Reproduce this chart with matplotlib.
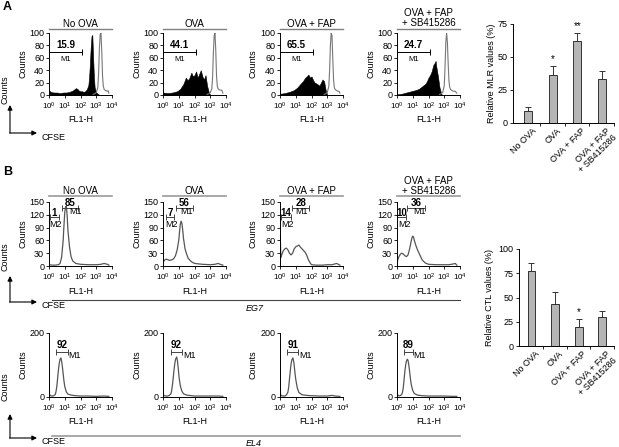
#!/usr/bin/env python3
import numpy as np
import matplotlib
matplotlib.use('Agg')
import matplotlib.pyplot as plt
from matplotlib.ticker import NullLocator
from matplotlib.transforms import blended_transform_factory

plt.rcParams['font.family'] = 'Liberation Sans'
plt.rcParams['mathtext.fontset'] = 'custom'
plt.rcParams['mathtext.rm'] = 'Liberation Sans'
plt.rcParams['mathtext.it'] = 'Liberation Sans:italic'
plt.rcParams['mathtext.bf'] = 'Liberation Sans:bold'

W, H = 619, 447

treatments = ['No OVA', 'OVA', 'OVA + FAP', 'OVA + FAP\n+ SB415286']

# ---- panel A : CFSE histograms (x in log10 FL1-H, y counts) ----
a_m1 = ['15.9', '44.1', '65.5', '24.7']

a_noova_x = [0, 0.1, 0.3, 0.5, 0.7, 0.9, 1.1, 1.3, 1.5, 1.6, 1.7, 1.8, 1.9, 2.0, 2.1, 2.2, 2.3, 2.4,
             2.5, 2.55, 2.6, 2.65, 2.7, 2.75, 2.8, 2.85, 2.9, 3.0, 3.1, 3.2]
a_noova_y = [8, 5, 4, 4, 3, 4, 4, 5, 7, 9, 11, 10, 7, 6, 6, 5, 6, 9,
             16, 30, 52, 78, 95, 97, 62, 30, 12, 4, 2, 0]
a_ova_x = [0, 0.3, 0.6, 0.9, 1.1, 1.3, 1.45, 1.55, 1.65, 1.8, 1.9, 2.0, 2.1, 2.2, 2.3, 2.4,
           2.5, 2.6, 2.7, 2.8, 2.9, 3.0]
a_ova_y = [4, 3, 4, 6, 10, 18, 28, 24, 26, 36, 30, 32, 38, 28, 34, 40, 30, 25, 32, 15, 5, 0]
a_fap_x = [0, 0.3, 0.6, 0.9, 1.1, 1.3, 1.45, 1.6, 1.7, 1.8, 1.9, 2.0, 2.1, 2.2, 2.35, 2.5,
           2.6, 2.7, 2.8, 2.9, 3.0]
a_fap_y = [2, 3, 5, 8, 12, 18, 22, 28, 30, 33, 28, 30, 24, 20, 18, 15, 20, 25, 22, 8, 0]
a_sb_x = [0, 0.3, 0.6, 0.9, 1.2, 1.4, 1.6, 1.8, 1.9, 2.0, 2.1, 2.2, 2.3, 2.4, 2.45, 2.5,
          2.6, 2.7, 2.8, 2.85]
a_sb_y = [1, 2, 4, 6, 8, 10, 14, 18, 22, 28, 32, 38, 48, 52, 55, 45, 30, 12, 3, 0]

# undivided control (open gray histograms)
a_noova_open_x = [2.8, 2.9, 3.0, 3.1, 3.15, 3.2, 3.25, 3.3, 3.35, 3.4, 3.45, 3.5, 3.6, 3.7, 3.75, 3.8]
a_noova_open_y = [1, 2, 4, 12, 35, 75, 98, 100, 70, 30, 14, 9, 7, 6, 7, 3]
a_ova_open_x = [2.8, 2.9, 3.0, 3.1, 3.15, 3.2, 3.25, 3.3, 3.35, 3.4, 3.45, 3.5, 3.6, 3.7, 3.75, 3.8]
a_ova_open_y = [1, 2, 4, 10, 30, 70, 96, 100, 72, 30, 14, 10, 8, 8, 7, 3]
a_fap_open_x = [2.8, 2.9, 3.0, 3.1, 3.15, 3.2, 3.25, 3.3, 3.35, 3.4, 3.45, 3.5, 3.6, 3.7, 3.75, 3.8]
a_fap_open_y = [1, 2, 4, 14, 40, 80, 100, 96, 60, 25, 12, 9, 7, 6, 6, 3]
a_sb_open_x = [2.7, 2.8, 2.9, 3.0, 3.05, 3.1, 3.15, 3.2, 3.25, 3.3, 3.35, 3.4, 3.5, 3.6, 3.7, 3.8]
a_sb_open_y = [1, 2, 4, 15, 45, 85, 100, 85, 50, 22, 12, 9, 7, 6, 6, 3]

# ---- panel B : EG7 targets ----
b_m1 = ['85', '56', '28', '36']
b_m2 = ['1', '7', '14', '10']

eg7_noova_x = [0, 0.2, 0.4, 0.6, 0.7, 0.8, 0.9, 0.95, 1.0, 1.05, 1.1, 1.15, 1.2, 1.3, 1.4, 1.5,
               1.7, 2.0, 2.5, 3.0, 3.3, 3.5, 3.7, 3.8]
eg7_noova_y = [3, 2, 2, 3, 6, 20, 60, 95, 125, 138, 140, 120, 85, 45, 22, 12,
               6, 4, 3, 3, 4, 6, 4, 2]
eg7_ova_x = [0, 0.1, 0.2, 0.3, 0.4, 0.5, 0.6, 0.7, 0.8, 0.9, 1.0, 1.05, 1.1, 1.15, 1.2, 1.25,
             1.3, 1.4, 1.5, 1.6, 1.8, 2.0, 2.5, 3.0, 3.3, 3.5, 3.7, 3.8]
eg7_ova_y = [8, 14, 16, 15, 13, 14, 15, 18, 25, 38, 60, 80, 98, 105, 100, 85,
             65, 40, 28, 18, 10, 6, 4, 3, 4, 6, 3, 2]
eg7_fap_x = [0, 0.02, 0.05, 0.1, 0.2, 0.3, 0.4, 0.5, 0.6, 0.7, 0.8, 0.9, 1.0, 1.1, 1.2, 1.3,
             1.4, 1.5, 1.6, 1.7, 1.8, 1.9, 2.0, 2.3, 2.7, 3.0, 3.3, 3.5, 3.6, 3.7, 3.8]
eg7_fap_y = [5, 68, 20, 25, 35, 40, 42, 38, 30, 26, 30, 40, 45, 47, 49, 44,
             40, 36, 32, 25, 15, 8, 3, 2, 2, 3, 3, 5, 6, 4, 2]
eg7_sb_x = [0, 0.05, 0.1, 0.2, 0.3, 0.4, 0.5, 0.6, 0.7, 0.8, 0.9, 0.95, 1.0, 1.05, 1.1, 1.2,
            1.3, 1.4, 1.5, 1.6, 1.8, 2.0, 2.5, 3.0, 3.3, 3.6, 3.7, 3.8]
eg7_sb_y = [6, 15, 20, 27, 30, 28, 24, 22, 26, 40, 58, 66, 70, 68, 60, 48,
            38, 30, 22, 14, 7, 4, 3, 3, 3, 5, 6, 2]

# ---- panel B : EL4 targets ----
el4_m1 = ['92', '92', '91', '89']

el4_noova_x = [0, 0.01, 0.03, 0.1, 0.2, 0.3, 0.4, 0.45, 0.5, 0.55, 0.6, 0.65, 0.7, 0.76, 0.8, 0.85,
               0.9, 0.95, 1.0, 1.1, 1.2, 1.4, 1.7, 2.0, 2.5, 3.0, 3.5, 3.8]
el4_noova_y = [5, 72, 8, 4, 3, 4, 8, 18, 35, 60, 85, 105, 118, 122, 112, 95,
               72, 50, 33, 16, 9, 6, 4, 3, 3, 2, 3, 2]
el4_ova_x = [0, 0.01, 0.03, 0.1, 0.2, 0.3, 0.4, 0.5, 0.55, 0.6, 0.65, 0.7, 0.75, 0.8, 0.87, 0.92,
             0.97, 1.02, 1.1, 1.2, 1.3, 1.5, 1.8, 2.0, 2.5, 3.0, 3.5, 3.8]
el4_ova_y = [4, 33, 6, 4, 3, 3, 5, 10, 20, 38, 60, 85, 105, 118, 125, 112,
             88, 62, 35, 18, 10, 6, 4, 3, 3, 3, 3, 2]
el4_fap_x = [0, 0.01, 0.03, 0.1, 0.2, 0.3, 0.4, 0.5, 0.55, 0.6, 0.65, 0.7, 0.75, 0.82, 0.88, 0.93,
             1.0, 1.1, 1.2, 1.4, 1.7, 2.0, 2.5, 3.0, 3.3, 3.5, 3.8]
el4_fap_y = [5, 92, 8, 4, 3, 3, 6, 15, 30, 55, 80, 102, 116, 122, 108, 85,
             55, 28, 14, 7, 5, 4, 3, 3, 5, 3, 2]
el4_sb_x = [0, 0.01, 0.03, 0.1, 0.2, 0.3, 0.35, 0.4, 0.45, 0.5, 0.55, 0.6, 0.65, 0.7, 0.75, 0.8,
            0.85, 0.9, 1.0, 1.1, 1.3, 1.6, 2.0, 2.5, 3.0, 3.5, 3.8]
el4_sb_y = [4, 45, 7, 4, 4, 8, 15, 30, 55, 80, 100, 112, 118, 115, 100, 80,
            58, 40, 20, 11, 6, 4, 3, 3, 3, 2, 2]

# ---- bar charts ----
mlr_values = [9, 36, 62, 33]
mlr_err = [3, 7, 6, 6.5]
mlr_stars = ['', '*', '**', '']
ctl_values = [77, 43, 20, 30]
ctl_err = [9, 13, 8, 6]
ctl_stars = ['', '', '*', '']

fig = plt.figure(figsize=(W / 100, H / 100), dpi=100)


def rect(x0, y0, x1, y1):
    return [x0 / W, 1 - y1 / H, (x1 - x0) / W, (y1 - y0) / H]


ov = fig.add_axes([0, 0, 1, 1])
ov.set_xlim(0, W)
ov.set_ylim(H, 0)
ov.axis('off')

lefts = [49, 163, 280, 397]
HW = 63


def flow_axes(x0, y0, y1, ymax, yticks):
    ax = fig.add_axes(rect(x0, y0, x0 + HW, y1))
    ax.set_xscale('log')
    ax.set_xlim(1, 1e4)
    ax.set_ylim(0, ymax)
    ax.set_xticks([1, 10, 100, 1000, 1e4])
    ax.xaxis.set_minor_locator(NullLocator())
    ax.set_yticks(yticks)
    for s in ['top', 'right']:
        ax.spines[s].set_visible(False)
    for s in ['left', 'bottom']:
        ax.spines[s].set_linewidth(0.7)
    ax.tick_params(labelsize=6.5, length=2.5, width=0.6, pad=1)
    ax.tick_params(axis='x', labelsize=5.8, pad=1.5)
    ov.text(x0 - 26.5, (y0 + y1) / 2, 'Counts', rotation=90, ha='center', va='center', fontsize=6.5)
    ov.text(x0 + HW / 2, y1 + 25, 'FL1-H', ha='center', va='center', fontsize=6.5)
    return ax


def gate(ax, d0, d1, y, color):
    ax.plot([10 ** d0, 10 ** d1], [y, y], color=color, lw=0.7, marker='|', ms=4, mew=0.7,
            clip_on=False)


def lx(v):
    return 10 ** np.array(v)


def title(x0, y_line, lines_y, lines, color, lw):
    ov.plot([x0, x0 + HW], [y_line, y_line], color=color, lw=lw)
    for yy, t in zip(lines_y, lines):
        ov.text(x0 + HW / 2, yy, t, ha='center', va='center', fontsize=7)


# ---------------- panel A ----------------
a_fill = [(a_noova_x, a_noova_y), (a_ova_x, a_ova_y), (a_fap_x, a_fap_y), (a_sb_x, a_sb_y)]
a_open = [(a_noova_open_x, a_noova_open_y), (a_ova_open_x, a_ova_open_y),
          (a_fap_open_x, a_fap_open_y), (a_sb_open_x, a_sb_open_y)]
for i, x0 in enumerate(lefts):
    ax = flow_axes(x0, 33, 95, 100, [0, 20, 40, 60, 80, 100])
    fx, fy = a_fill[i]
    ax.fill_between(lx(fx), 0, fy, color='black', lw=0.4)
    ox, oy = a_open[i]
    ax.plot(lx(ox), oy, color='#777777', lw=0.8)
    gate(ax, 0, 2.1, 69, 'black')
    ax.text(10 ** 1.05, 80, a_m1[i], ha='center', va='center', fontsize=7, fontweight='bold')
    ax.text(10 ** 1.05, 58, 'M1', ha='center', va='center', fontsize=5.5)
    if i < 3:
        title(x0, 28.5, [24], [treatments[i]], '#808080', 1.0)
    else:
        title(x0, 28.5, [13, 23], ['OVA + FAP', '+ SB415286'], '#808080', 1.0)

# ---------------- panel B, EG7 ----------------
eg7 = [(eg7_noova_x, eg7_noova_y), (eg7_ova_x, eg7_ova_y), (eg7_fap_x, eg7_fap_y), (eg7_sb_x, eg7_sb_y)]
m1_span = [(0.8, 1.84), (0.83, 1.9), (0.75, 1.87), (0.63, 1.75)]
m1_lab_x = [1.3, 1.08, 0.97, 1.0]
m2_span = [(0.05, 0.65), (0.17, 0.72), (0.04, 0.7), (0.0, 0.57)]
m2_lab_x = [0.0, 0.15, 0.1, 0.05]
for i, x0 in enumerate(lefts):
    ax = flow_axes(x0, 202, 266, 150, [0, 30, 60, 90, 120, 150])
    cx, cy = eg7[i]
    ax.plot(lx(cx), cy, color='#555555', lw=0.9)
    gate(ax, m1_span[i][0], m1_span[i][1], 137, '#444444')
    gate(ax, m2_span[i][0], m2_span[i][1], 114, '#444444')
    ax.text(10 ** (sum(m1_span[i]) / 2), 148, b_m1[i], ha='center', va='center', fontsize=7,
            fontweight='bold')
    ax.text(10 ** m1_lab_x[i], 127, 'M1', ha='left', va='center', fontsize=6.5)
    ax.text(10 ** (sum(m2_span[i]) / 2), 124, b_m2[i], ha='center', va='center', fontsize=7,
            fontweight='bold')
    ax.text(10 ** m2_lab_x[i], 98, 'M2', ha='left', va='center', fontsize=6.5)
    if i < 3:
        title(x0, 196, [191], [treatments[i]], '#999999', 1.2)
    else:
        title(x0, 196, [181, 190.5], ['OVA + FAP', '+ SB415286'], '#999999', 1.2)

# ---------------- panel B, EL4 ----------------
el4 = [(el4_noova_x, el4_noova_y), (el4_ova_x, el4_ova_y), (el4_fap_x, el4_fap_y), (el4_sb_x, el4_sb_y)]
el4_span = [(0.44, 1.19), (0.49, 1.23), (0.47, 1.17), (0.42, 1.0)]
for i, x0 in enumerate(lefts):
    ax = flow_axes(x0, 333, 397, 200, [0, 200])
    cx, cy = el4[i]
    ax.plot(lx(cx), cy, color='#555555', lw=0.9)
    gate(ax, el4_span[i][0], el4_span[i][1], 142, '#444444')
    ax.text(10 ** (sum(el4_span[i]) / 2), 163, el4_m1[i], ha='center', va='center', fontsize=7,
            fontweight='bold')
    ax.text(10 ** (el4_span[i][1] + 0.03), 130, 'M1', ha='left', va='center', fontsize=6.5)


# ---------------- bar charts ----------------
def bar_chart(box, values, err, stars, ymax, yticks, xlim, ylabel, ylab_x):
    ax = fig.add_axes(rect(*box))
    pos = np.arange(len(values))
    ax.bar(pos, values, width=0.33, color='#b5b5b5', edgecolor='#333333', lw=0.7,
           yerr=[np.zeros(len(err)), err], capsize=2,
           error_kw=dict(ecolor='#333333', elinewidth=0.7, capthick=0.7))
    ax.set_ylim(0, ymax)
    ax.set_xlim(*xlim)
    ax.set_yticks(yticks)
    ax.set_xticks(pos + 0.5)
    ax.set_xticklabels([])
    for s in ['top', 'right']:
        ax.spines[s].set_visible(False)
    for s in ['left', 'bottom']:
        ax.spines[s].set_linewidth(0.7)
    ax.tick_params(labelsize=6.5, length=2.5, width=0.6, pad=1.5)
    trans = blended_transform_factory(ax.transData, ax.transAxes)
    for p, t in zip(pos, treatments):
        ax.text(p + 0.15, -0.035, t, transform=trans, rotation=45, rotation_mode='anchor',
                ha='right', va='top', fontsize=6.5, linespacing=1.0)
    for p, v, e, s in zip(pos, values, err, stars):
        if s:
            ax.text(p, v + e + ymax * 0.02, s, ha='center', va='bottom', fontsize=7)
    y0, y1 = box[1], box[3]
    ov.text(ylab_x, (y0 + y1) / 2, ylabel, rotation=90, ha='center', va='center', fontsize=6.5)
    return ax


bar_chart((513, 24, 614, 123), mlr_values, mlr_err, mlr_stars, 75, [0, 25, 50, 75],
          (-0.62, 3.5), 'Relative MLR values (%)', 491)
bar_chart((519, 249, 614, 346), ctl_values, ctl_err, ctl_stars, 100, [0, 25, 50, 75, 100],
          (-0.53, 3.5), 'Relative CTL values (%)', 490)

# ---------------- annotations ----------------
ov.text(3, 7, 'A', fontsize=9, fontweight='bold', ha='left', va='center')
ov.text(3, 172, 'B', fontsize=9, fontweight='bold', ha='left', va='center')

arrow_kw = dict(arrowstyle='-|>', lw=0.8, color='black', mutation_scale=7, shrinkA=0, shrinkB=0)
for yb, ytop, ycnt in [(133, 105, 90), (302, 276, 257), (438, 414, 387)]:
    ov.annotate('', xy=(10, ytop), xytext=(10, yb), arrowprops=arrow_kw)
    ov.annotate('', xy=(37, yb), xytext=(9.6, yb), arrowprops=arrow_kw)
    ov.text(42, yb + 4, 'CFSE', fontsize=6.5, ha='left', va='center')
    ov.text(5, ycnt, 'Counts', fontsize=6.5, rotation=90, ha='center', va='center')

ov.plot([52, 460], [300, 300], color='#444444', lw=0.8)
ov.text(246, 308.5, 'EG7', fontsize=6.5, style='italic', ha='left', va='center')
ov.plot([52, 460], [436, 436], color='#999999', lw=1.2)
ov.text(246, 443, 'EL4', fontsize=6.5, style='italic', ha='left', va='center')

fig.savefig('out.png', dpi=100)
